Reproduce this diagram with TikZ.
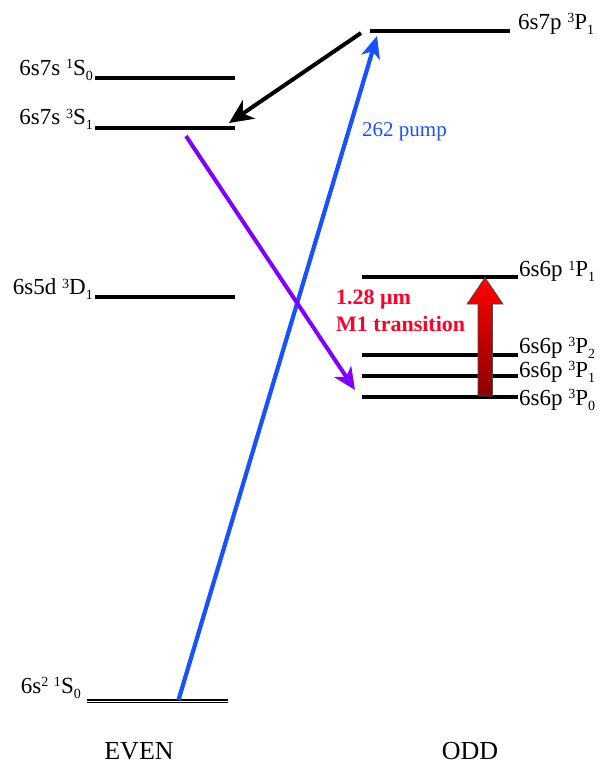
\documentclass[tikz,border=0pt]{standalone}
\usepackage{fontspec}
\setmainfont{Liberation Serif}
\usetikzlibrary{arrows.meta}
\newcommand\upi[1]{\raisebox{6.5pt}{\fontsize{14}{14}\selectfont #1}}
\newcommand\dni[1]{\raisebox{-5pt}{\fontsize{14}{14}\selectfont #1}}
\definecolor{pumpblue}{RGB}{25,80,255}
\definecolor{decaypurple}{RGB}{128,0,255}
\definecolor{mred}{RGB}{255,0,40}
\begin{document}
\begin{tikzpicture}[x=1pt,y=-1pt,
  level/.style={line width=3.2pt},
  lab/.style={font=\fontsize{23}{26}\selectfont, inner sep=0pt},
  side/.style={font=\fontsize{26}{30}\selectfont, inner sep=0pt, anchor=base},
  redlab/.style={font=\bfseries\fontsize{22}{26}\selectfont, text=mred, inner sep=0pt, anchor=base west},
  tr/.style={line width=4pt}]
\useasboundingbox (0,0) rectangle (602,769);

% even levels
\draw[level] (95,78) -- (235,78);
\draw[level] (95,128) -- (235,128);
\draw[level] (95,297) -- (235,297);
\draw[line width=1.6pt, double=white, double distance=0.9pt] (87,701) -- (228,701);

\node[lab, anchor=base east] (l1) at (93,75) {6s7s \upi{1}S\dni{0}};
\node[lab, anchor=base east] (l2) at (93,124.5) {6s7s \upi{3}S\dni{1}};
\node[lab, anchor=base east] (l3) at (93,294.5) {6s5d \upi{3}D\dni{1}};
\node[lab, anchor=base east] (l4) at (81,693) {6s\upi{2} \upi{1}S\dni{0}};

% odd levels
\draw[level] (370,31) -- (510,31);
\draw[level] (362,277) -- (518,277);
\draw[level] (362,355) -- (518,355);
\draw[level] (362,376) -- (518,376);
\draw[level] (362,397) -- (518,397);

\node[lab, anchor=base west] (r1) at (518,29) {6s7p \upi{3}P\dni{1}};
\node[lab, anchor=base west] (r2) at (519,276.5) {6s6p \upi{1}P\dni{1}};
\node[lab, anchor=base west] (r3) at (519,353) {6s6p \upi{3}P\dni{2}};
\node[lab, anchor=base west] (r4) at (519,377) {6s6p \upi{3}P\dni{1}};
\node[lab, anchor=base west] (r5) at (519,405) {6s6p \upi{3}P\dni{0}};

% transitions
\coordinate (bs) at (361,33);
\coordinate (be) at (229,123);
\draw[tr, -{Stealth[length=24pt,width=22pt,inset=7pt]}] (bs) -- (be);

\coordinate (ps) at (178.5,700);
\coordinate (pe) at (377,36);
\draw[pumpblue, line width=4.2pt, -{Stealth[length=22pt,width=19pt,inset=6pt]}] (ps) -- (pe);
\node[font=\fontsize{21}{24}\selectfont, text=pumpblue, inner sep=0pt, anchor=base west] (pl) at (362,136) {262 pump};

\coordinate (ds) at (186,136);
\coordinate (de) at (355,390);
\draw[decaypurple, tr, -{Stealth[length=22pt,width=20pt,inset=6pt]}] (ds) -- (de);

% M1 block arrow
\shade[top color=red, bottom color=red!55!black, draw=black!70, line width=0.6pt]
  (478,396) -- (478,304) -- (467,304) -- (485,277.5) -- (503,304) -- (492.5,304) -- (492.5,396) -- cycle;
\node[redlab] (m1) at (336,304) {1.28 μm};
\node[redlab] (m2) at (336,331.5) {M1 transition};

\node[side] (even) at (139,759) {EVEN};
\node[side] (odd) at (470,759) {ODD};
\end{tikzpicture}
\end{document}
